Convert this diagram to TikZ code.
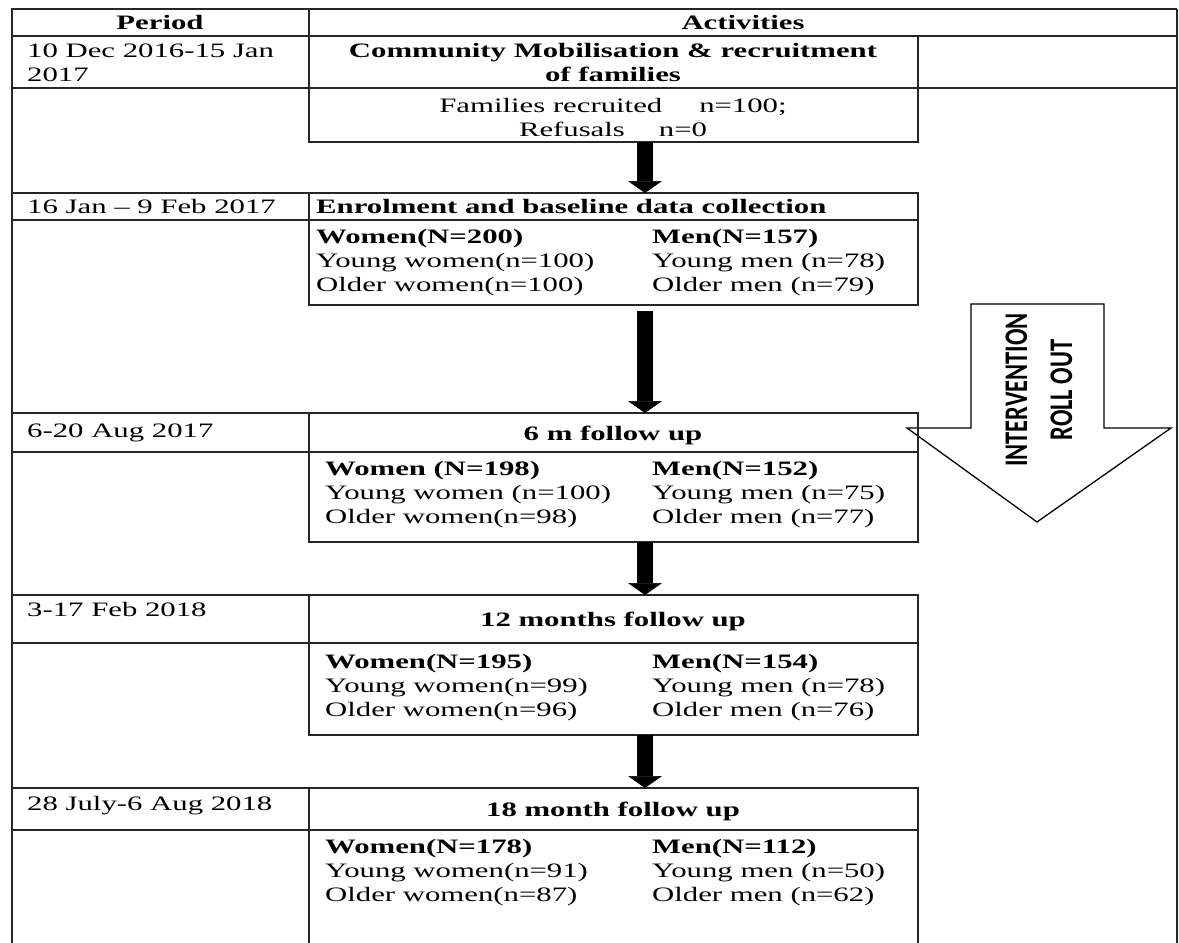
\documentclass[tikz,border=0pt]{standalone}
\usepackage{fontspec}
\usetikzlibrary{arrows.meta,positioning}
\newfontfamily\cellfont{Liberation Serif}[FakeStretch=1.5]
\newfontfamily\rollfont{Carlito}[FakeStretch=0.74]
\newcommand\cellsize{\fontsize{20.5}{24}\selectfont}

\tikzset{
  grid line/.style = {line width=1.5pt, black!85},
  box/.style = {draw, grid line, inner sep=0pt, outer sep=0pt, anchor=north west},
  cell/.style = {inner sep=0pt, font=\cellfont\cellsize},
  cellb/.style = {inner sep=0pt, font=\cellfont\cellsize\bfseries},
  flow/.style = {line width=16pt, -{Triangle[width=34pt,length=12pt,line width=0.5pt]}},
  rollout/.style = {draw, line width=1.3pt, fill=white},
}

\begin{document}
\begin{tikzpicture}[x=1pt, y=-1pt]
\useasboundingbox (0,0) rectangle (1179,943);
%\draw [help lines] (0,0) grid (1179,943);

% intervention arrow
\draw[rollout] (971,304) -- (1104,304) -- (1104,428) -- (1171,428) -- (1037,522)
    -- (907,428) -- (971,428) -- cycle;
\node[rotate=90, align=center, inner sep=0pt,
      font=\rollfont\bfseries\fontsize{33}{45}\selectfont] (rolltxt) at (1039,390)
    {INTERVENTION\\ROLL OUT};

% table frame
\draw[grid line] (12,950) -- (12,9) -- (1177,9);
\draw[line width=2.5pt, black!85] (1177,9) -- (1177,950);
\draw[grid line] (12,36) -- (1177,36);
\draw[grid line] (12,88) -- (1177,88);
\draw[grid line] (309,9) -- (309,88);
\draw[grid line] (918,36) -- (918,88);
\foreach \t/\s in {193/220, 413/452, 595/643, 788/830}
{
    \draw[grid line] (12,\t) -- (918,\t);
    \draw[grid line] (12,\s) -- (918,\s);
}

% activity boxes
\node[box, minimum width=609pt, minimum height=54pt] (recruit) at (309,88) {};
\node[box, minimum width=609pt, minimum height=112pt] (enrol) at (309,193) {};
\node[box, minimum width=609pt, minimum height=129pt] (six) at (309,413) {};
\node[box, minimum width=609pt, minimum height=140pt] (twelve) at (309,595) {};
\node[box, minimum width=609pt, minimum height=170pt] (eighteen) at (309,788) {};

% header
\node[cellb, anchor=base] (hper) at (160,29) {Period};
\node[cellb, anchor=base] (hact) at (743,29) {Activities};

% periods
\node[cell, anchor=base west] (per1) at (27,57)
    {\begin{tabular}[t]{@{}l@{}}10 Dec 2016-15 Jan\\2017\end{tabular}};
\node[cell, anchor=base west] (per2) at (27,213) {16 Jan – 9 Feb 2017};
\node[cell, anchor=base west] (per3) at (27,437) {6-20 Aug 2017};
\node[cell, anchor=base west] (per4) at (27,616) {3-17 Feb 2018};
\node[cell, anchor=base west] (per5) at (27,810) {28 July-6 Aug 2018};

% activities
\node[cellb, anchor=base] (act1) at (613,57)
    {\begin{tabular}[t]{@{}c@{}}Community Mobilisation \& recruitment\\of families\end{tabular}};
\node[cell, anchor=base] (recruittxt) at (613,112)
    {\begin{tabular}[t]{@{}c@{}}Families recruited\hspace{37pt}n=100;\\Refusals\hspace{34pt}n=0\end{tabular}};
\node[cellb, anchor=base west] (act2) at (316,213) {Enrolment and baseline data collection};
\node[cell, anchor=base west] (enroltxt) at (316,243)
    {\begin{tabular}[t]{@{}p{336pt}@{}l@{}}
    \textbf{Women(N=200)} & \textbf{Men(N=157)}\\
    Young women(n=100) & Young men (n=78)\\
    Older women(n=100) & Older men (n=79)
    \end{tabular}};
\node[cellb, anchor=base] (act3) at (613,440) {6 m follow up};
\node[cell, anchor=base west] (sixtxt) at (325,475)
    {\begin{tabular}[t]{@{}p{327pt}@{}l@{}}
    \textbf{Women (N=198)} & \textbf{Men(N=152)}\\
    Young women (n=100) & Young men (n=75)\\
    Older women(n=98) & Older men (n=77)
    \end{tabular}};
\node[cellb, anchor=base] (act4) at (613,626) {12 months follow up};
\node[cell, anchor=base west] (twelvetxt) at (325,668)
    {\begin{tabular}[t]{@{}p{327pt}@{}l@{}}
    \textbf{Women(N=195)} & \textbf{Men(N=154)}\\
    Young women(n=99) & Young men (n=78)\\
    Older women(n=96) & Older men (n=76)
    \end{tabular}};
\node[cellb, anchor=base] (act5) at (613,816) {18 month follow up};
\node[cell, anchor=base west] (eighteentxt) at (325,853)
    {\begin{tabular}[t]{@{}p{327pt}@{}l@{}}
    \textbf{Women(N=178)} & \textbf{Men(N=112)}\\
    Young women(n=91) & Young men (n=50)\\
    Older women(n=87) & Older men (n=62)
    \end{tabular}};

% flow arrows
\coordinate (ax) at (645,0);
\draw[flow] (recruit.south -| ax) -- (enrol.north -| ax);
\draw[flow, shorten <=6pt] (enrol.south -| ax) -- (six.north -| ax);
\draw[flow] (six.south -| ax) -- (twelve.north -| ax);
\draw[flow] (twelve.south -| ax) -- (eighteen.north -| ax);
\end{tikzpicture}
\end{document}
